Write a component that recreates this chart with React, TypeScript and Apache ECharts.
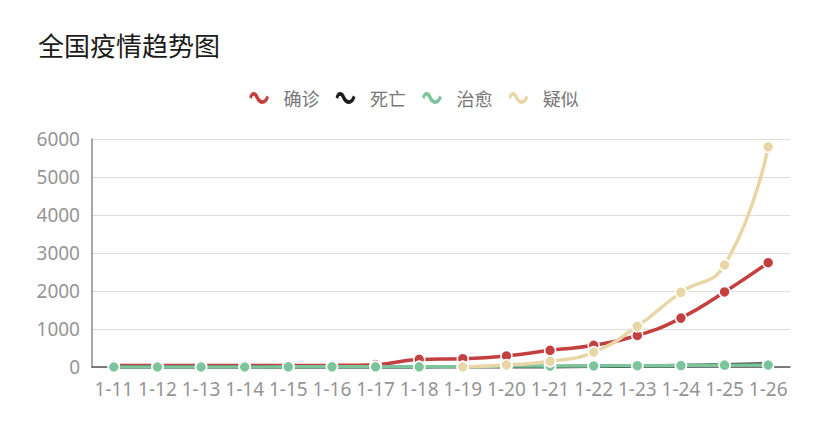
import React, { useEffect, useRef } from "react";
import * as echarts from "echarts";

const categories = ["1-11","1-12","1-13","1-14","1-15","1-16","1-17","1-18","1-19","1-20","1-21","1-22","1-23","1-24","1-25","1-26"];
const confirmed = [41, 41, 41, 41, 41, 45, 62, 200, 218, 291, 440, 571, 830, 1287, 1975, 2744];
const deaths = [1, 1, 1, 1, 2, 2, 2, 3, 4, 6, 9, 17, 25, 41, 56, 80];
const cured = [0, 0, 0, 0, 5, 5, 5, 5, 5, 25, 25, 28, 34, 38, 49, 51];
const suspected: (number | null)[] = [null, null, null, null, null, null, null, null, 0, 54, 149, 393, 1072, 1965, 2684, 5794];
const seriesNames = ["确诊", "死亡", "治愈", "疑似"];
const yTicks = { min: 0, max: 6000, interval: 1000 };

const colors = ["#c4403f", "#1a1a1a", "#7cc49b", "#e8d6a6"];
const wave = "path://M0,7 C2,-1 8,-1 11,6 C14,12 18,12 20,5 L23,7 C20,17 12,17 8,9 C6,4 4,4 3,9 Z";

export default function App() {
  const ref = useRef<HTMLDivElement>(null);
  useEffect(() => {
    document.body.style.margin = "0";
    const chart = echarts.init(ref.current!, undefined, { renderer: "svg" });
    const data = [confirmed, deaths, cured, suspected];
    chart.setOption({
      animation: false,
      backgroundColor: "#fff",
      color: colors,
      title: {
        text: "全国疫情趋势图",
        left: 33,
        top: 26,
        textStyle: { fontFamily: "Noto Sans CJK SC", fontSize: 26, fontWeight: "normal", color: "#1a1a1a" },
      },
      legend: {
        data: seriesNames.map((n) => ({ name: n, icon: wave })),
        left: "center",
        top: 84,
        itemWidth: 23,
        itemHeight: 12,
        itemGap: 16,
        itemStyle: { borderWidth: 0 },
        textStyle: { fontFamily: "Noto Sans CJK SC", fontSize: 18, color: "#777", padding: [0, 0, 0, 8] },
      },
      grid: { left: 92, right: 38, top: 139, bottom: 75 },
      xAxis: {
        type: "category",
        data: categories,
        boundaryGap: true,
        axisLine: { lineStyle: { color: "#555", width: 1.5 } },
        axisTick: { show: false },
        axisLabel: { interval: 0, fontFamily: "Noto Sans", fontSize: 19, color: "#959595", margin: 12 },
      },
      yAxis: {
        type: "value",
        min: yTicks.min,
        max: yTicks.max,
        interval: yTicks.interval,
        axisLine: { show: true, lineStyle: { color: "#888", width: 1.5 } },
        axisTick: { show: false },
        axisLabel: { fontFamily: "Noto Sans", fontSize: 19, color: "#959595", margin: 12, formatter: (v: number) => String(v) },
        splitLine: { lineStyle: { color: "#ddd", width: 1 } },
      },
      series: seriesNames.map((name, i) => ({
        name,
        type: "line",
        data: data[i],
        smooth: true,
        symbol: "circle",
        symbolSize: 11,
        lineStyle: { width: 3.5, color: colors[i] },
        itemStyle: { color: colors[i], borderColor: "#fff", borderWidth: 1.5 },
        showSymbol: true,
      })),
    });
    return () => chart.dispose();
  }, []);
  return <div ref={ref} style={{ position: "absolute", left: 0, top: 0, width: 828, height: 442 }} />;
}
